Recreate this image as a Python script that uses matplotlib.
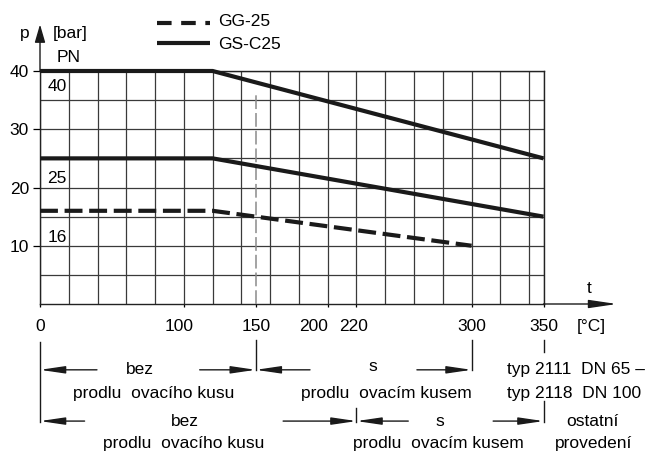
import numpy as np
import matplotlib
matplotlib.use('Agg')
import matplotlib.pyplot as plt
from matplotlib.ticker import FixedLocator
from matplotlib.transforms import ScaledTranslation

plt.rcParams['font.family'] = ['Liberation Sans', 'DejaVu Sans']
FS = 12.5

# ----------------------------------------------------------------------
# data: p [bar] vs t [°C]
# ----------------------------------------------------------------------
gs_pn40_t = [0, 120, 350]
gs_pn40_p = [40, 40, 25]
gs_pn25_t = [0, 120, 350]
gs_pn25_p = [25, 25, 15]
gg_pn16_t = [0, 120, 300]
gg_pn16_p = [16, 16, 10]

pn_names = ['40', '25', '16']
pn_label_y = [37.3, 21.5, 11.5]

x_tick_vals = [0, 100, 150, 200, 220, 300, 350]
y_tick_vals = [10, 20, 30, 40]
x_grid_vals = list(range(0, 341, 20)) + [350]
y_grid_vals = list(range(5, 41, 5))

t_split_1 = 150     # row 1 boundary
t_split_2 = 220     # row 2 boundary
t_gg_max = 300
t_max = 350

fig = plt.figure(figsize=(6.59, 4.54), dpi=100)
ax = fig.add_axes([40 / 659, 150 / 454, 503.5 / 659, 233 / 454])
ax.set_xlim(0, 350)
ax.set_ylim(0, 40)

# grid
ax.xaxis.remove_overlapping_locs = False
ax.yaxis.remove_overlapping_locs = False
ax.xaxis.set_major_locator(FixedLocator(x_tick_vals))
ax.xaxis.set_minor_locator(FixedLocator(x_grid_vals))
ax.yaxis.set_major_locator(FixedLocator(y_tick_vals))
ax.yaxis.set_minor_locator(FixedLocator(y_grid_vals))
ax.grid(which='minor', color='#3a3a3a', linewidth=0.9)
ax.grid(which='major', visible=False)
ax.tick_params(which='minor', length=0)
ax.tick_params(axis='x', which='major', direction='out', length=2.5, width=0.9,
               pad=8, labelsize=FS)
ax.tick_params(axis='y', which='major', direction='out', length=5, width=0.9,
               pad=3, labelsize=FS)
ax.set_xticklabels([str(v) for v in x_tick_vals])
ax.set_yticklabels([str(v) for v in y_tick_vals])
# the printed labels sit a bit left of some ticks
label_shift_px = {'100': -5, '200': -14, '220': -3}
for lab in ax.get_xticklabels():
    dx = label_shift_px.get(lab.get_text(), 0)
    if dx:
        lab.set_transform(lab.get_transform() +
                          ScaledTranslation(dx / 100, 0, fig.dpi_scale_trans))
for s in ax.spines.values():
    s.set_color('#222222')
    s.set_linewidth(1.0)

# curves
ax.plot(gs_pn40_t, gs_pn40_p, color='#1a1a1a', lw=3, solid_capstyle='butt',
        clip_on=False, zorder=5)
ax.plot(gs_pn25_t, gs_pn25_p, color='#1a1a1a', lw=3, solid_capstyle='butt',
        clip_on=False, zorder=5)
ax.plot(gg_pn16_t, gg_pn16_p, color='#1a1a1a', lw=3, dashes=(4.3, 1.6),
        dash_capstyle='butt', clip_on=False, zorder=5)

# thin dashed marker at 150
ax.plot([t_split_1, t_split_1], [0, 36.4], color='#8a8a8a', lw=1.1,
        dashes=(9, 2.6), zorder=4)

for name, yy in zip(pn_names, pn_label_y):
    ax.text(11.8, yy, name, fontsize=FS, ha='center', va='center')

# axis arrows and labels
arr = dict(arrowstyle='-|>,head_length=1.5,head_width=0.22', color='#1a1a1a',
           lw=1.0, mutation_scale=10, shrinkA=0, shrinkB=0)
ax.annotate('', xy=(0, 48.0), xytext=(0, 40), xycoords='data',
            arrowprops=dict(arr, arrowstyle='-|>,head_length=1.1,head_width=0.32'),
            annotation_clip=False)
ax.annotate('', xy=(401, 0), xytext=(350, 0), xycoords='data',
            arrowprops=dict(arr, arrowstyle='-|>,head_length=1.7,head_width=0.25'),
            annotation_clip=False)
ax.text(-10.4, 46.5, 'p', fontsize=FS, ha='center', va='center', clip_on=False)
ax.text(9.0, 46.5, '[bar]', fontsize=FS, ha='left', va='center', clip_on=False)
ax.text(20, 42.4, 'PN', fontsize=FS, ha='center', va='center', clip_on=False)
ax.text(382, 2.7, 't', fontsize=FS, ha='center', va='center', clip_on=False)
ax.text(383, -3.9, '[°C]', fontsize=FS, ha='center', va='center', clip_on=False)

# legend
ax.plot([81.3, 118.2], [48.3, 48.3], color='#1a1a1a', lw=3, dashes=(3.5, 2.3),
        dash_capstyle='butt', clip_on=False)
ax.plot([81.3, 118.2], [44.75, 44.75], color='#1a1a1a', lw=3,
        solid_capstyle='butt', clip_on=False)
ax.text(123.7, 48.5, 'GG-25', fontsize=FS, ha='left', va='center', clip_on=False)
ax.text(123.7, 44.5, 'GS-C25', fontsize=FS, ha='left', va='center', clip_on=False)

# dimension lines below the axis
def ext(x, y0, y1):
    ax.plot([x, x], [y0, y1], color='#1a1a1a', lw=1.0, clip_on=False)

def dim(x_from, x_to, y):
    ax.annotate('', xy=(x_to, y), xytext=(x_from, y), arrowprops=arr,
                annotation_clip=False)

r1, r1b = -11.3, -15.3
r2, r2b = -20.1, -23.9

ext(0, -6.5, -20.3)
ext(t_split_1, -6.2, -11.3)
ext(t_gg_max, -6.2, -11.3)
ext(t_max, -6.2, -8.2)
ext(t_max, -16.6, -20.3)
ext(t_split_2, -17.9, -20.3)

dim(39.6, 0, r1)
dim(111, t_split_1, r1)
dim(187.7, t_split_1, r1)
dim(262, t_gg_max, r1)
dim(31, 0, r2)
dim(169, t_split_2, r2)
dim(256, t_split_2, r2)
dim(315, t_max, r2)

ax.text(69.5, r1, 'bez', fontsize=FS, ha='center', va='center', clip_on=False)
ax.text(79.3, r1b, 'prodlu  ovacího kusu', fontsize=FS, ha='center', va='center', clip_on=False)
ax.text(231.5, r1 + 0.5, 's', fontsize=FS, ha='center', va='center', clip_on=False)
ax.text(240.5, r1b, 'prodlu  ovacím kusem', fontsize=FS, ha='center', va='center', clip_on=False)
ax.text(100.8, r2, 'bez', fontsize=FS, ha='center', va='center', clip_on=False)
ax.text(100, r2b, 'prodlu  ovacího kusu', fontsize=FS, ha='center', va='center', clip_on=False)
ax.text(278, r2, 's', fontsize=FS, ha='center', va='center', clip_on=False)
ax.text(277, r2b, 'prodlu  ovacím kusem', fontsize=FS, ha='center', va='center', clip_on=False)

ax.text(324.6, r1, 'typ 2111  DN 65 –', fontsize=FS, ha='left', va='center', clip_on=False)
ax.text(324.6, r1b, 'typ 2118  DN 100', fontsize=FS, ha='left', va='center', clip_on=False)
ax.text(384, r2, 'ostatní', fontsize=FS, ha='center', va='center', clip_on=False)
ax.text(385, r2b, 'provedení', fontsize=FS, ha='center', va='center', clip_on=False)

fig.savefig('out.png', dpi=100)
